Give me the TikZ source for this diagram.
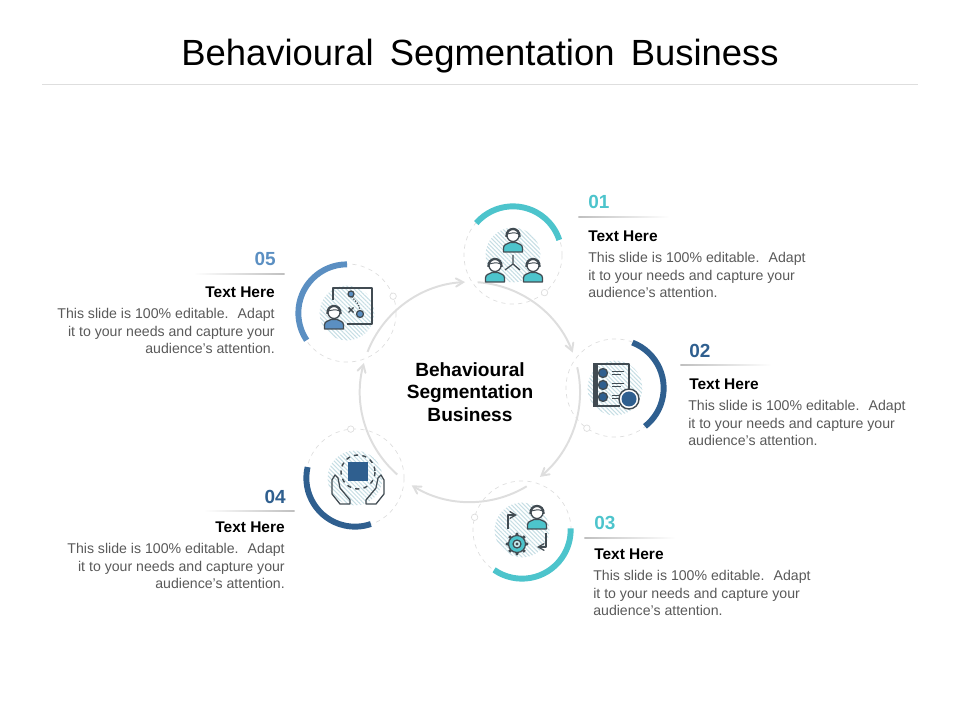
\documentclass[tikz,border=0pt]{standalone}
\usepackage{fontspec}
\setmainfont{Liberation Sans}
\usepackage{tikz}
\usetikzlibrary{arrows,calc,patterns.meta}
\definecolor{teal}{HTML}{4DC4CC}
\definecolor{navy}{HTML}{2F5F8F}
\definecolor{midblue}{HTML}{5B8FC2}
\definecolor{ink}{HTML}{414B52}
\definecolor{ringgray}{HTML}{DEDEDE}
\definecolor{hatchblue}{HTML}{C6DEE4}
\definecolor{bodygray}{HTML}{595959}
\newcommand{\personicon}[3]{%
  \begin{scope}[shift={(#1,#2)}]
    \draw[icon,fill=#3] (-9.5,17) -- (-9.5,13) .. controls (-9.5,9.5) and (-6,9) .. (-3,7.5) -- (3,7.5) .. controls (6,9) and (9.5,9.5) .. (9.5,13) -- (9.5,17) -- cycle;
    \draw[icon,fill=white] (0,0.5) circle[radius=6];
    \draw[icon,line width=1.3pt] (-6.8,2) .. controls (-7.5,-9) and (7.5,-9) .. (6.8,2);
    \draw[icon,line width=0.7pt] (-5.5,-1) .. controls (-2,-2) and (2,-3) .. (5.5,-1);
  \end{scope}}
\newcommand{\segment}[7]{%
  % name, x, y, colour, arc from, arc to, small circle angle
  \node[hatchdisc] at (#2,#3) {};
  \node[dashring] (#1) at (#2,#3) {};
  \draw[segarc,#4] ($(#1)+(#5:\segr)$) arc[start angle=#5,end angle=#6,radius=\segr];
  \node[smalldot] (#1dot) at ($(#1)+(#7:\dashr)$) {};}
\def\segr{34.6pt}
\def\dashr{34.9pt}
\def\ringr{78.25pt}
\tikzset{
  dashring/.style={circle,draw=ringgray,dashed,line width=0.5pt,minimum size=69.8pt,inner sep=0pt},
  hatchdisc/.style={circle,minimum size=39pt,inner sep=0pt,pattern={Lines[angle=-45,distance=2.1pt,line width=0.75pt]},pattern color=hatchblue},
  smalldot/.style={circle,draw=ringgray,fill=white,line width=0.5pt,minimum size=4.6pt,inner sep=0pt},
  segarc/.style={line width=4.2pt},
  ringarc/.style={draw=ringgray,line width=1.4pt,->,>=angle 60},
  icon/.style={draw=ink,line width=0.9pt,line join=round},
  numlabel/.style={font=\fontsize{13.5}{16}\selectfont\bfseries,inner sep=0pt},
  headlabel/.style={font=\fontsize{11}{13}\selectfont\bfseries,text=black,inner sep=0pt},
  bodyleft/.style={font=\fontsize{10.05}{12.45}\selectfont,text=bodygray,align=left,anchor=north west,inner sep=0pt},
  bodyright/.style={font=\fontsize{10.05}{12.45}\selectfont,text=bodygray,align=right,anchor=north east,inner sep=0pt},
  ruleright/.style={rectangle,inner sep=0pt,minimum width=65pt,minimum height=0.3pt,left color=gray!50,right color=white},
  ruleleft/.style={rectangle,inner sep=0pt,minimum width=65pt,minimum height=0.3pt,left color=white,right color=gray!50},
}
\begin{document}
\begin{tikzpicture}[x=0.025cm,y=-0.025cm]
  \useasboundingbox (0,0) rectangle (960,720);
  \node[font=\fontsize{25.9}{30}\selectfont,inner sep=0pt] (title) at (480,56) {Behavioural\, Segmentation\, Business};
  \draw[ringgray,line width=0.5pt] (42,84) -- (918,84);

  \coordinate (hub) at (470,392);
  \draw[ringarc] ($(hub)+(86:\ringr)$) arc[start angle=86,end angle=21,radius=\ringr];
  \draw[ringarc] ($(hub)+(13:\ringr)$) arc[start angle=13,end angle=-50.5,radius=\ringr];
  \draw[ringarc] ($(hub)+(-59:\ringr)$) arc[start angle=-59,end angle=-122,radius=\ringr];
  \draw[ringarc] ($(hub)+(228.6:\ringr)$) arc[start angle=228.6,end angle=164.7,radius=\ringr];
  \draw[ringarc] ($(hub)+(158.6:\ringr)$) arc[start angle=158.6,end angle=92.6,radius=\ringr];
  \node[font=\fontsize{13.6}{16}\selectfont\bfseries,align=center,inner sep=0pt] (centre) at (470,392) {Behavioural\\Segmentation\\Business};

  \segment{segA}{513}{255}{teal}{139}{18}{-50}
  \segment{segB}{615}{388}{navy}{69}{-52}{235}
  \segment{segC}{522}{530}{teal}{235}{362}{165}
  \segment{segD}{355}{478}{navy}{167}{289}{95}
  \segment{segE}{347}{313}{midblue}{90}{214}{20}

  % people
  \draw[icon] (513,264) -- (513,255) (513,264) -- (505,270) (513,264) -- (520,270);
  \personicon{513}{235}{teal}
  \personicon{495}{265}{teal}
  \personicon{533}{265}{teal}

  % checklist
  \draw[icon,line width=1pt] (593,364) -- (629,364) -- (629,390);
  \draw[icon,line width=1pt] (593,406) -- (620,406);
  \fill[ink] (593,364) rectangle (598,406);
  \foreach \y in {373,385,397} {
    \draw[icon,fill=navy] (603,\y) circle[radius=4.5];
    \draw[icon,line width=0.6pt] (612,\y-2) -- (624,\y-2) (612,\y+1.5) -- (621,\y+1.5);
  }
  \draw[icon,fill=white,line width=1pt] (629,399) circle[radius=10];
  \fill[navy] (629,399) circle[radius=7.5];

  % person, gear, arrows
  \personicon{537}{512}{teal}
  \draw[icon,->,>=angle 60] (508,529) -- (508,515) -- (517,515);
  \draw[icon,->,>=angle 60] (546,533) -- (546,547) -- (537,547);
  \foreach \a in {0,45,...,315} {
    \fill[ink] ($(517,544)+(\a:7pt)$) circle[radius=1.8];
  }
  \draw[icon,fill=teal] (517,544) circle[radius=8.5];
  \draw[icon,fill=white!70!teal] (517,544) circle[radius=4];
  \fill[ink] (517,544) circle[radius=1.6];

  % chip in hands
  \fill[navy] (348,462) rectangle (368,481);
  \draw[icon,dashed,line width=1pt] (358,472) circle[radius=17];
  \draw[icon] (332,494) -- (332,480) -- (335,475) -- (338,478) -- (340,488) -- (350,500) -- (350,504) -- (340,504) -- cycle;
  \draw[icon] (384,494) -- (384,480) -- (381,475) -- (378,478) -- (376,488) -- (366,500) -- (366,504) -- (376,504) -- cycle;

  % route plan
  \draw[icon] (333,300) -- (333,288) -- (372,288) -- (372,324) -- (347,324);
  \draw[icon,densely dotted] (351,294) .. controls (353,302) and (360,300) .. (360,314);
  \draw[icon,fill=midblue] (351,294) circle[radius=3];
  \draw[icon,fill=midblue] (360,314) circle[radius=3.5];
  \draw[icon,line width=1pt] (348.5,307.5) -- (353.5,312.5) (353.5,307.5) -- (348.5,312.5);
  \personicon{334}{312}{midblue}

  % labels
  \node[numlabel,text=teal,anchor=west] (numA) at (588,202) {01};
  \node[ruleright,anchor=west] (ruleA) at (578,217) {};
  \node[headlabel,anchor=west] (headA) at (588,236) {Text Here};
  \node[bodyleft] (bodyA) at (588,252) {This slide is 100\% editable.~ Adapt\\it to your needs and capture your\\audience's attention.};

  \node[numlabel,text=navy,anchor=west] (numB) at (689,351) {02};
  \node[ruleright,anchor=west] (ruleB) at (680,365) {};
  \node[headlabel,anchor=west] (headB) at (689,384) {Text Here};
  \node[bodyleft] (bodyB) at (688,400) {This slide is 100\% editable.~ Adapt\\it to your needs and capture your\\audience's attention.};

  \node[numlabel,text=teal,anchor=west] (numC) at (594,523) {03};
  \node[ruleright,anchor=west] (ruleC) at (584,538) {};
  \node[headlabel,anchor=west] (headC) at (594,554) {Text Here};
  \node[bodyleft] (bodyC) at (593,570) {This slide is 100\% editable.~ Adapt\\it to your needs and capture your\\audience's attention.};

  \node[numlabel,text=navy,anchor=east] (numD) at (286,497) {04};
  \node[ruleleft,anchor=east] (ruleD) at (295,511) {};
  \node[headlabel,anchor=east] (headD) at (285,527) {Text Here};
  \node[bodyright] (bodyD) at (285,543) {This slide is 100\% editable.~ Adapt\\it to your needs and capture your\\audience's attention.};

  \node[numlabel,text=midblue,anchor=east] (numE) at (276,259) {05};
  \node[ruleleft,anchor=east] (ruleE) at (285,274) {};
  \node[headlabel,anchor=east] (headE) at (275,292) {Text Here};
  \node[bodyright] (bodyE) at (275,308) {This slide is 100\% editable.~ Adapt\\it to your needs and capture your\\audience's attention.};
\end{tikzpicture}
\end{document}
